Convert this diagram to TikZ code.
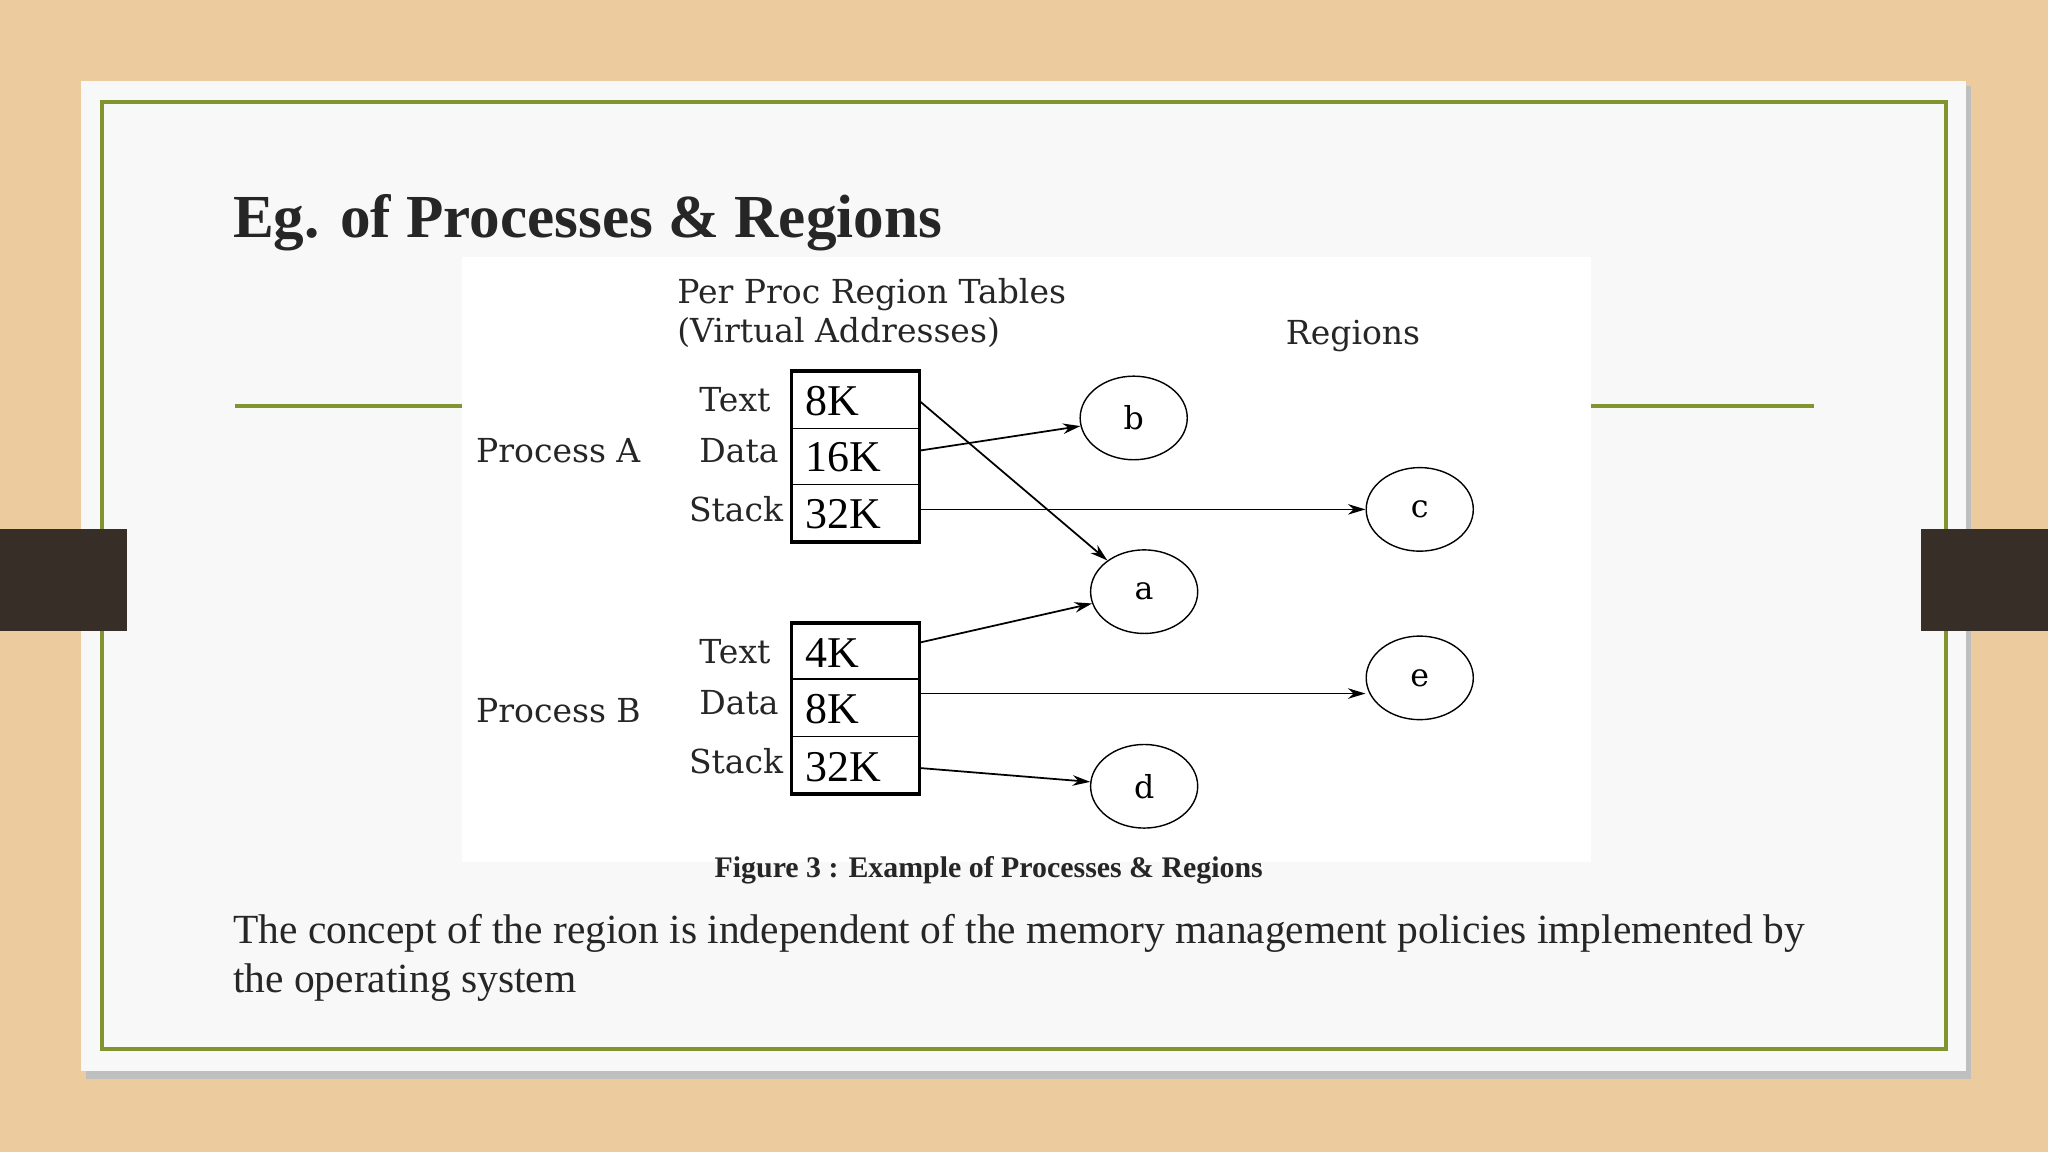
\documentclass[tikz,border=0pt]{standalone}
\usepackage{fontspec}
\setmainfont{Liberation Serif}
\newfontfamily\dsf{DejaVu Serif}
\usetikzlibrary{arrows.meta,shapes.geometric}
\definecolor{wood}{RGB}{236,204,158}
\definecolor{slide}{RGB}{248,248,248}
\definecolor{olive}{RGB}{128,148,48}
\definecolor{tab}{RGB}{56,46,40}
\tikzset{
  lbl/.style={font=\dsf\fontsize{9.4}{11}\selectfont, anchor=base west, inner sep=0, text=black!85},
  val/.style={font=\fontsize{12.5}{13}\selectfont, anchor=base west, inner sep=0},
  reg/.style={draw, ellipse, minimum width=82*0.01306cm, minimum height=64*0.01306cm, font=\dsf\fontsize{9}{11}\selectfont, inner sep=0},
  arr/.style={-{Stealth[length=5pt,width=3pt]}, line width=0.5pt},
}
\begin{document}
\begin{tikzpicture}[x=0.01306cm,y=-0.01306cm]
\useasboundingbox (0,0) rectangle (1568,882);
\fill[wood] (0,0) rectangle (1568,882);
\fill[black!25] (66,66) rectangle (1509,826);
\fill[slide] (62,62) rectangle (1505,820);
\draw[olive, line width=1pt] (78,78) rectangle (1490,803);
\fill[tab] (0,405) rectangle (97,483);
\fill[tab] (1471,405) rectangle (1568,483);
\node[anchor=base west, inner sep=0, font=\fontsize{17.4}{18}\selectfont\bfseries, text=black!85] (title) at (178,182) {Eg. of Processes \& Regions};
\draw[olive, line width=1pt] (180,311) -- (354,311);
\draw[olive, line width=1pt] (1218,311) -- (1389,311);
\fill[white] (354,197) rectangle (1218,660);
\node[lbl] (h1) at (518,232) {Per Proc Region Tables};
\node[lbl] (h2) at (518,262) {(Virtual Addresses)};
\node[lbl] (h3) at (984,264) {Regions};
% table A
\draw[line width=1pt] (606,284) rectangle (704,415);
\draw[line width=0.4pt] (606,328) -- (704,328) (606,371) -- (704,371);
\node[lbl] at (535,315) {Text};
\node[lbl] at (535,354) {Data};
\node[lbl] at (527,399) {Stack};
\node[lbl] at (364,354) {Process A};
\node[val] (a1) at (616,318) {8K};
\node[val] (a2) at (616,361) {16K};
\node[val] (a3) at (616,405) {32K};
% table B
\draw[line width=1pt] (606,477) rectangle (704,608);
\draw[line width=0.4pt] (606,520) -- (704,520) (606,564) -- (704,564);
\node[lbl] at (535,508) {Text};
\node[lbl] at (535,547) {Data};
\node[lbl] at (527,592) {Stack};
\node[lbl] at (364,553) {Process B};
\node[val] (b1) at (616,511) {4K};
\node[val] (b2) at (616,554) {8K};
\node[val] (b3) at (616,598) {32K};
% regions
\node[reg] (rb) at (868,320) {b};
\node[reg] (rc) at (1087,390) {c};
\node[reg] (ra) at (876,453) {a};
\node[reg] (re) at (1087,519) {e};
\node[reg] (rd) at (876,602) {d};
\coordinate (sa1) at (704,307);
\coordinate (sa2) at (704,345);
\coordinate (sa3) at (704,390);
\coordinate (sb1) at (704,492);
\coordinate (sb2) at (704,531);
\coordinate (sb3) at (704,588);
\draw[arr] (sa1) -- (ra);
\draw[arr] (sa2) -- (rb);
\draw[arr] (sa3) -- (rc.west |- sa3);
\draw[arr] (sb1) -- (ra);
\draw[arr] (sb2) -- (re.west |- sb2);
\draw[arr] (sb3) -- (rd);
\node[anchor=base, inner sep=0, font=\fontsize{8.5}{9}\selectfont\bfseries, text=black!85] (cap) at (757,672) {Figure 3 : Example of Processes \& Regions};
\node[anchor=base west, inner sep=0, font=\fontsize{11.8}{13}\selectfont, text=black!85] (t1) at (178,722) {The concept of the region is independent of the memory management policies implemented by};
\node[anchor=base west, inner sep=0, font=\fontsize{11.8}{13}\selectfont, text=black!85] (t2) at (178,760) {the operating system};
\end{tikzpicture}
\end{document}
